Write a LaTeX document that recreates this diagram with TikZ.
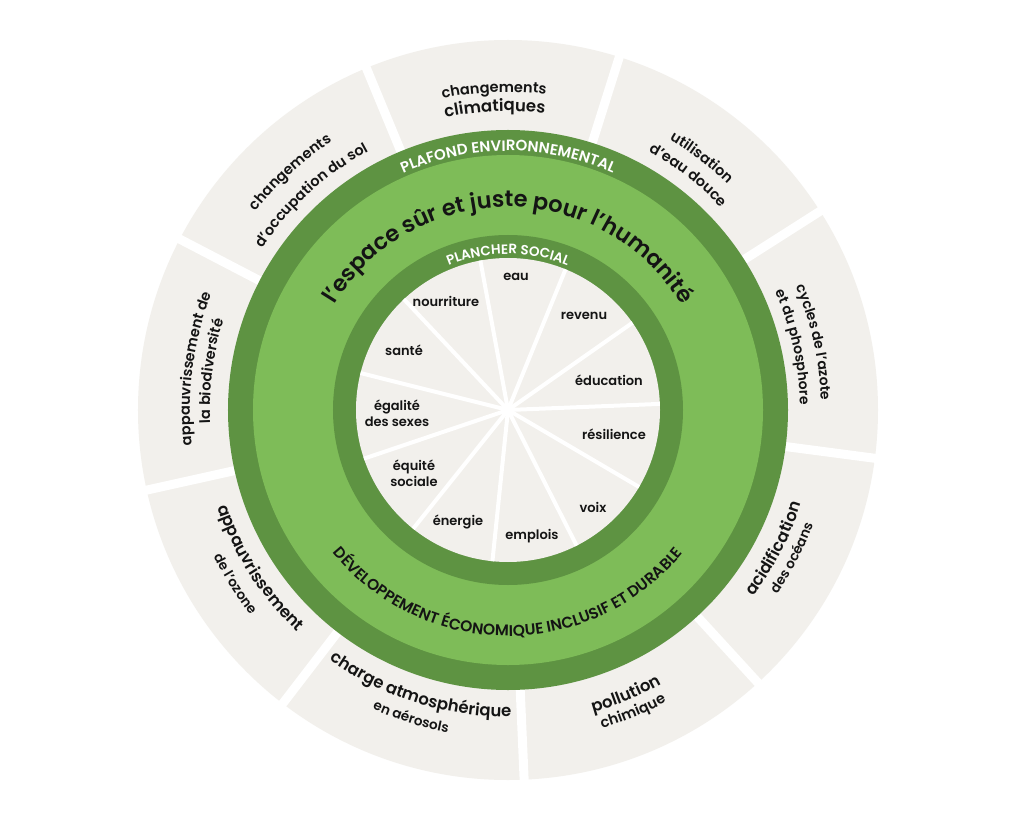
\documentclass[tikz,border=0pt]{standalone}
\usepackage{fontspec}
\setmainfont{Poppins}[UprightFont={* SemiBold},BoldFont={* Bold}]
\usetikzlibrary{decorations.text}

\definecolor{floorgreen}{HTML}{5E9342}
\definecolor{spacegreen}{HTML}{7EBC58}
\definecolor{boundgray}{HTML}{F2F0EC}
\definecolor{inkblack}{HTML}{141414}

% text on a circle around the centre: angle, baseline radius, size, colour, text
\newcommand{\toparc}[5]{%
  \path[decorate,decoration={text along path,text align=center,
    text={|\fontsize{#3}{#3}\selectfont\color{#4}|#5}}]
    ({#1+80}:#2) arc[start angle=#1+80,end angle=#1-80,radius=#2];}
\newcommand{\botarc}[5]{%
  \path[decorate,decoration={text along path,text align=center,
    text={|\fontsize{#3}{#3}\selectfont\color{#4}|#5}}]
    ({#1-80}:#2) arc[start angle=#1-80,end angle=#1+80,radius=#2];}

\tikzset{
  social/.style={text=inkblack,align=center,inner sep=0pt,
    font=\fontsize{13}{16}\selectfont},
  gap/.style={white,line width=9},
  spoke/.style={white,line width=4}
}

\begin{document}
\begin{tikzpicture}[x=1pt,y=1pt]
  \useasboundingbox[fill=white] (-508,-406) rectangle (516,410);

  % planetary boundaries
  \fill[boundgray] (0,0) circle (370);
  \foreach \a in {32.5,72.5,...,352.5}
    \draw[gap] (\a:260) -- (\a:380);

  % rings
  \fill[floorgreen] (0,0) circle (280);
  \fill[spacegreen] (0,0) circle (255);
  \fill[floorgreen] (0,0) circle (175);
  \fill[boundgray] (0,0) circle (152);
  \foreach \k in {0,...,10}
    \draw[spoke] (0,0) -- ({2.3+\k*360/11}:152);

  % ring titles
  \toparc{90}{259}{15}{white}{PLAFOND ENVIRONNEMENTAL}
  \toparc{90}{203}{22.5}{inkblack}{l’espace sûr et juste pour l’humanité}
  \toparc{90}{156}{13.5}{white}{PLANCHER SOCIAL}
  \botarc{270}{226}{15.5}{inkblack}{DÉVELOPPEMENT ÉCONOMIQUE INCLUSIF ET DURABLE}

  % outer labels
  \toparc{92.5}{318}{14.5}{inkblack}{changements}
  \toparc{92.5}{299}{16.5}{inkblack}{climatiques}
  \toparc{52.5}{315}{14.5}{inkblack}{utilisation}
  \toparc{52.5}{294}{14.5}{inkblack}{d’eau douce}
  \toparc{12.5}{313}{14}{inkblack}{cycles de l’azote}
  \toparc{12.5}{292}{14}{inkblack}{et du phosphore}
  \botarc{-27.5}{308}{16.5}{inkblack}{acidification}
  \botarc{-27.5}{326}{13.5}{inkblack}{des océans}
  \botarc{-67.5}{314}{16.5}{inkblack}{pollution}
  \botarc{-67.5}{332}{14.5}{inkblack}{chimique}
  \botarc{-107.5}{307}{16.5}{inkblack}{charge atmosphérique}
  \botarc{-107.5}{328}{13.5}{inkblack}{en aérosols}
  \botarc{-147.5}{306}{16.5}{inkblack}{appauvrissement}
  \botarc{-147.5}{329}{13.5}{inkblack}{de l’ozone}
  \toparc{172.5}{318}{14.5}{inkblack}{appauvrissement de}
  \toparc{172.5}{298}{14.5}{inkblack}{la biodiversité}
  \toparc{132.5}{321}{14.5}{inkblack}{changements}
  \toparc{132.5}{294}{14.5}{inkblack}{d’occupation du sol}

  % social foundation
  \node[social] (eau) at (8,133) {eau};
  \node[social] (revenu) at (76,94) {revenu};
  \node[social] (education) at (101,30) {éducation};
  \node[social] (resilience) at (106,-24) {résilience};
  \node[social] (voix) at (85,-97) {voix};
  \node[social] (emplois) at (24,-126) {emplois};
  \node[social] (energie) at (-50,-112) {énergie};
  \node[social] (equite) at (-94,-63) {équité\\sociale};
  \node[social] (egalite) at (-111,-3) {égalité\\des sexes};
  \node[social] (sante) at (-104,60) {santé};
  \node[social] (nourriture) at (-62,109) {nourriture};
\end{tikzpicture}
\end{document}
